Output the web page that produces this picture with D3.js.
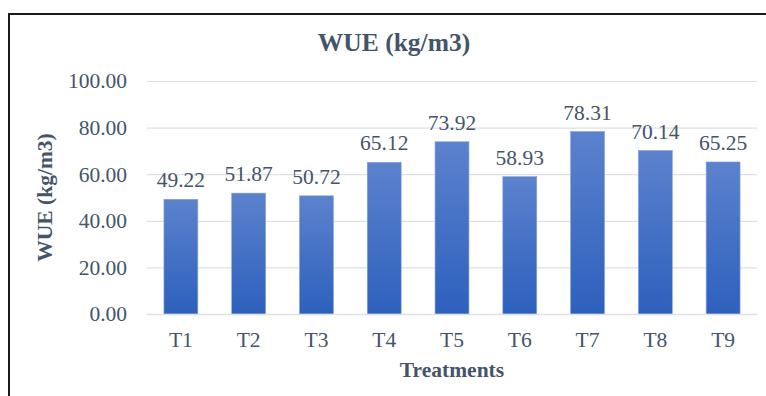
<!DOCTYPE html>
<html>
<head>
<meta charset="utf-8">
<script src="https://cdn.jsdelivr.net/npm/d3@7"></script>
<style>
  html, body { margin: 0; padding: 0; background: #fff; }
  svg { display: block; }
</style>
</head>
<body>
<svg id="chart" width="766" height="396"></svg>
<script>
const categories = ["T1", "T2", "T3", "T4", "T5", "T6", "T7", "T8", "T9"];
const wueValues = [49.22, 51.87, 50.72, 65.12, 73.92, 58.93, 78.31, 70.14, 65.25];
const yTicks = [0, 20, 40, 60, 80, 100];

const svg = d3.select("#chart");
const textColor = "#44546A";
const font = "'Liberation Serif', 'Times New Roman', serif";
const labelSize = "21.5px";

// chart frame
svg.append("rect")
  .attr("x", 9).attr("y", 14)
  .attr("width", 770).attr("height", 400)
  .attr("fill", "#fff")
  .attr("stroke", "#1a1a1a").attr("stroke-width", 2);

const plot = { left: 147, right: 757, top: 81, bottom: 314 };

const x = d3.scaleBand()
  .domain(categories)
  .range([plot.left, plot.right])
  .paddingInner(0.5).paddingOuter(0.25);

const y = d3.scaleLinear()
  .domain([0, 100])
  .range([plot.bottom, plot.top]);

// vertical gradient for the bars
const defs = svg.append("defs");
const grad = defs.append("linearGradient")
  .attr("id", "barGrad")
  .attr("x1", 0).attr("y1", 0).attr("x2", 0).attr("y2", 1);
grad.append("stop").attr("offset", "0%").attr("stop-color", "#5C82CD");
grad.append("stop").attr("offset", "100%").attr("stop-color", "#2D60BD");

// gridlines and value axis labels
const yAxis = d3.axisLeft(y)
  .tickValues(yTicks)
  .tickSize(-(plot.right - plot.left))
  .tickPadding(20)
  .tickFormat(d3.format(".2f"));

const gy = svg.append("g")
  .attr("transform", `translate(${plot.left},0)`)
  .call(yAxis);
gy.select(".domain").remove();
gy.selectAll(".tick line")
  .attr("stroke", "#DCE1E8").attr("stroke-width", 1.2);
gy.selectAll(".tick text")
  .attr("fill", textColor)
  .attr("font-family", font)
  .attr("font-size", labelSize);

// category axis
const xAxis = d3.axisBottom(x).tickSize(0).tickPadding(0);
const gx = svg.append("g")
  .attr("transform", `translate(0,${plot.bottom})`)
  .call(xAxis);
gx.select(".domain").remove();
gx.selectAll(".tick text")
  .attr("dy", null)
  .attr("y", 33)
  .attr("fill", textColor)
  .attr("font-family", font)
  .attr("font-size", labelSize);

// bars
svg.append("g").selectAll("rect")
  .data(wueValues)
  .join("rect")
  .attr("x", (d, i) => x(categories[i]))
  .attr("y", d => y(d))
  .attr("width", x.bandwidth())
  .attr("height", d => y(0) - y(d))
  .attr("fill", "url(#barGrad)")
  .attr("stroke", "#7F9FDB").attr("stroke-width", 0.6);

// baseline drawn over bar bottoms
svg.append("line")
  .attr("x1", plot.left).attr("x2", plot.right)
  .attr("y1", plot.bottom + 0.5).attr("y2", plot.bottom + 0.5)
  .attr("stroke", "#DCE1E8").attr("stroke-width", 1.5);

// value labels
svg.append("g").selectAll("text")
  .data(wueValues)
  .join("text")
  .attr("x", (d, i) => x(categories[i]) + x.bandwidth() / 2)
  .attr("y", d => y(d) - 12)
  .attr("text-anchor", "middle")
  .attr("fill", textColor)
  .attr("font-family", font)
  .attr("font-size", labelSize)
  .text(d => d3.format(".2f")(d));

// title
svg.append("text")
  .attr("x", 394).attr("y", 51)
  .attr("text-anchor", "middle")
  .attr("fill", textColor)
  .attr("font-family", font)
  .attr("font-weight", "bold")
  .attr("font-size", "25.5px")
  .text("WUE (kg/m3)");

// axis titles
svg.append("text")
  .attr("transform", `translate(52,${(plot.top + plot.bottom) / 2}) rotate(-90)`)
  .attr("text-anchor", "middle")
  .attr("fill", textColor)
  .attr("font-family", font)
  .attr("font-weight", "bold")
  .attr("font-size", "21.5px")
  .text("WUE (kg/m3)");

svg.append("text")
  .attr("x", 452).attr("y", 377)
  .attr("text-anchor", "middle")
  .attr("fill", textColor)
  .attr("font-family", font)
  .attr("font-weight", "bold")
  .attr("font-size", "21.5px")
  .text("Treatments");
</script>
</body>
</html>
